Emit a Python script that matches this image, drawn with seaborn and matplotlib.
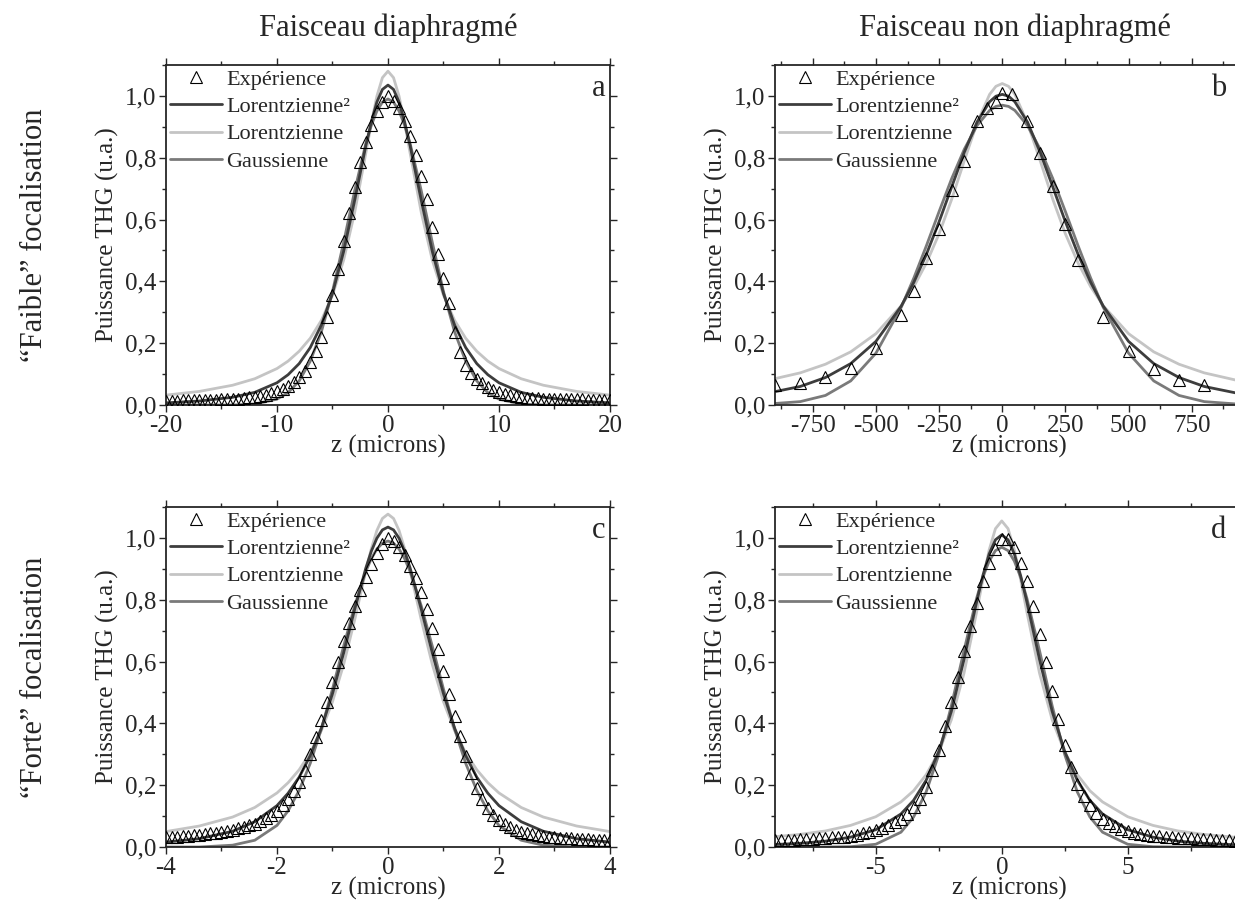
import numpy as np
import matplotlib
matplotlib.use("Agg")
import matplotlib.pyplot as plt
from matplotlib.ticker import MultipleLocator, FuncFormatter
import seaborn as sns

# --- données --------------------------------------------------------------
col_titles = ["Faisceau diaphragmé", "Faisceau non diaphragmé"]
row_titles = ["\u201cFaible\u201d focalisation", "\u201cForte\u201d focalisation"]
panel_letters = ["a", "b", "c", "d"]
series_names = ["Expérience", "Lorentzienne²", "Lorentzienne", "Gaussienne"]

# panneau a : faisceau diaphragmé, faible focalisation (pas de 0.5 micron)
a_exp_x = np.arange(-20, 20.01, 0.5)
a_exp_y = [0.014, 0.014, 0.014, 0.015, 0.015, 0.015, 0.016, 0.016, 0.017, 0.017,
           0.018, 0.019, 0.020, 0.021, 0.023, 0.025, 0.027, 0.030, 0.034, 0.039,
           0.045, 0.053, 0.063, 0.075, 0.090, 0.110, 0.140, 0.175, 0.220, 0.285,
           0.355, 0.440, 0.530, 0.620, 0.705, 0.785, 0.850, 0.905, 0.950, 0.980,
           1.000,
           0.985, 0.960, 0.920, 0.870, 0.810, 0.740, 0.665, 0.575, 0.490, 0.410,
           0.330, 0.235, 0.170, 0.130, 0.105, 0.085, 0.070, 0.058, 0.048, 0.041,
           0.035, 0.031, 0.028, 0.026, 0.024, 0.023, 0.022, 0.021, 0.020, 0.020,
           0.019, 0.019, 0.018, 0.018, 0.018, 0.017, 0.017, 0.017, 0.016, 0.016]
a_fit_x = [0, 0.5, 1, 1.5, 2, 3, 4, 5, 6, 7, 8, 9, 10, 12, 14, 17, 20]
a_lor2 = [1.035, 1.021, 0.980, 0.916, 0.838, 0.662, 0.496, 0.361, 0.259, 0.186,
          0.134, 0.098, 0.072, 0.041, 0.025, 0.013, 0.007]
a_lor = [1.080, 1.059, 0.999, 0.912, 0.814, 0.623, 0.468, 0.355, 0.274, 0.216,
         0.174, 0.142, 0.118, 0.085, 0.064, 0.044, 0.032]
a_gauss = [0.990, 0.980, 0.951, 0.905, 0.845, 0.693, 0.525, 0.367, 0.237, 0.142,
           0.078, 0.040, 0.019, 0.003, 0.000, 0.000, 0.000]

# panneau b : faisceau non diaphragmé, faible focalisation
b_exp_x = [-900, -800, -700, -600, -500, -400, -350, -300, -250, -200, -150, -100,
           -60, -25, 0, 40, 100, 150, 200, 250, 300, 400, 500, 600, 700, 800]
b_exp_y = [0.065, 0.070, 0.090, 0.120, 0.185, 0.290, 0.370, 0.475, 0.570, 0.695,
           0.790, 0.920, 0.960, 0.980, 1.010, 1.005, 0.920, 0.815, 0.710, 0.585,
           0.470, 0.285, 0.175, 0.115, 0.082, 0.065]
b_fit_x = [0, 25, 50, 100, 150, 200, 250, 300, 350, 400, 500, 600, 700, 800, 950]
b_lor2 = [1.005, 0.999, 0.981, 0.915, 0.818, 0.706, 0.593, 0.488, 0.397, 0.320,
          0.206, 0.134, 0.089, 0.060, 0.035]
b_lor = [1.040, 1.031, 1.005, 0.912, 0.791, 0.666, 0.554, 0.460, 0.383, 0.321,
         0.231, 0.172, 0.132, 0.104, 0.076]
b_gauss = [0.970, 0.966, 0.953, 0.904, 0.828, 0.733, 0.626, 0.516, 0.411, 0.316,
           0.168, 0.078, 0.031, 0.011, 0.002]

# panneau c : faisceau diaphragmé, forte focalisation (pas de 0.1 micron)
c_exp_x = np.arange(-4, 4.001, 0.1)
c_exp_y = [0.032, 0.033, 0.034, 0.035, 0.036, 0.038, 0.040, 0.042, 0.044, 0.046,
           0.049, 0.052, 0.056, 0.060, 0.065, 0.070, 0.076, 0.083, 0.093, 0.104,
           0.118, 0.135, 0.155, 0.180, 0.210, 0.250, 0.300, 0.355, 0.410, 0.470,
           0.535, 0.600, 0.665, 0.725, 0.780, 0.830, 0.875, 0.915, 0.950, 0.980,
           1.000,
           0.990, 0.970, 0.945, 0.910, 0.870, 0.825, 0.770, 0.710, 0.640, 0.570,
           0.495, 0.425, 0.360, 0.295, 0.240, 0.190, 0.155, 0.127, 0.105, 0.088,
           0.074, 0.064, 0.056, 0.050, 0.045, 0.041, 0.038, 0.035, 0.033, 0.031,
           0.030, 0.029, 0.028, 0.027, 0.026, 0.025, 0.024, 0.023, 0.023, 0.022]
c_fit_x = [0, 0.1, 0.2, 0.3, 0.4, 0.6, 0.8, 1.0, 1.2, 1.4, 1.6, 1.8, 2.0, 2.4, 2.8, 3.4, 4.0]
c_lor2 = [1.035, 1.026, 0.999, 0.957, 0.902, 0.769, 0.627, 0.496, 0.385, 0.296,
          0.226, 0.174, 0.134, 0.082, 0.051, 0.027, 0.016]
c_lor = [1.077, 1.063, 1.024, 0.965, 0.893, 0.735, 0.590, 0.470, 0.377, 0.305,
         0.250, 0.208, 0.175, 0.128, 0.097, 0.068, 0.050]
c_gauss = [0.990, 0.983, 0.964, 0.933, 0.891, 0.780, 0.649, 0.511, 0.382, 0.271,
           0.183, 0.117, 0.070, 0.022, 0.006, 0.000, 0.000]

# panneau d : faisceau non diaphragmé, forte focalisation (pas de 0.25 micron)
d_exp_x = np.arange(-9, 9.501, 0.25)
d_exp_y = [0.022, 0.023, 0.024, 0.024, 0.025, 0.026, 0.027, 0.028, 0.030, 0.031,
           0.032, 0.034, 0.037, 0.040, 0.044, 0.049, 0.055, 0.062, 0.070, 0.080,
           0.092, 0.107, 0.128, 0.155, 0.195, 0.250, 0.315, 0.390, 0.470, 0.550,
           0.635, 0.715, 0.790, 0.860, 0.920, 0.965,
           0.995,
           0.995, 0.970, 0.920, 0.860, 0.780, 0.690, 0.600, 0.505, 0.415, 0.330,
           0.260, 0.205, 0.165, 0.135, 0.110, 0.092, 0.078, 0.067, 0.059, 0.052,
           0.047, 0.043, 0.040, 0.037, 0.035, 0.033, 0.031, 0.030, 0.029, 0.028,
           0.027, 0.026, 0.025, 0.024, 0.023, 0.022, 0.021, 0.020]
d_fit_x = [0, 0.25, 0.5, 0.75, 1, 1.5, 2, 2.5, 3, 3.5, 4, 5, 6, 7, 8, 9.6]
d_lor2 = [1.010, 0.994, 0.948, 0.878, 0.792, 0.606, 0.439, 0.309, 0.216, 0.151,
          0.107, 0.056, 0.032, 0.019, 0.012, 0.006]
d_lor = [1.055, 1.030, 0.961, 0.865, 0.759, 0.562, 0.412, 0.307, 0.234, 0.182,
         0.146, 0.098, 0.070, 0.052, 0.041, 0.029]
d_gauss = [0.970, 0.959, 0.925, 0.873, 0.804, 0.635, 0.457, 0.299, 0.178, 0.097,
           0.048, 0.009, 0.001, 0.000, 0.000, 0.000]

panels = [
    (a_exp_x, a_exp_y, a_fit_x, a_lor2, a_lor, a_gauss),
    (b_exp_x, b_exp_y, b_fit_x, b_lor2, b_lor, b_gauss),
    (c_exp_x, c_exp_y, c_fit_x, c_lor2, c_lor, c_gauss),
    (d_exp_x, d_exp_y, d_fit_x, d_lor2, d_lor, d_gauss),
]
x_limits = [(-20, 20), (-900, 953), (-4, 4), (-9, 9.57)]
x_major = [10, 250, 2, 5]
x_minor = [5, 125, 1, 2.5]
letter_x = [0.99, 0.965, 0.99, 0.965]

# --- style ------------------------------------------------------------------
sns.set_style("ticks")
plt.rcParams['font.family'] = ['Liberation Serif', 'DejaVu Serif']
plt.rcParams['axes.unicode_minus'] = False

col_lor2 = "#3d3d3d"
col_lor = "#c4c4c4"
col_gauss = "#7a7a7a"

fig = plt.figure(figsize=(12.35, 9.18), dpi=100)
positions = [
    [0.1344, 0.5588, 0.3595, 0.3704],
    [0.6275, 0.5588, 0.3789, 0.3704],
    [0.1344, 0.0773, 0.3595, 0.3704],
    [0.6275, 0.0773, 0.3789, 0.3704],
]


def sym(half_x, half_y):
    # courbe symétrique : on recopie la moitié droite à gauche
    hx = np.asarray(half_x, dtype=float)
    hy = np.asarray(half_y, dtype=float)
    return np.concatenate([-hx[:0:-1], hx]), np.concatenate([hy[:0:-1], hy])


for i, (exp_x, exp_y, fit_x, lor2, lor, gauss) in enumerate(panels):
    ax = fig.add_axes(positions[i])

    fx, fy = sym(fit_x, lor)
    sns.lineplot(x=fx, y=fy, ax=ax, color=col_lor, lw=2.0, sort=False,
                 estimator=None, label=series_names[2], legend=False)
    fx, fy = sym(fit_x, gauss)
    sns.lineplot(x=fx, y=fy, ax=ax, color=col_gauss, lw=2.0, sort=False,
                 estimator=None, label=series_names[3], legend=False)
    fx, fy = sym(fit_x, lor2)
    sns.lineplot(x=fx, y=fy, ax=ax, color=col_lor2, lw=2.0, sort=False,
                 estimator=None, label=series_names[1], legend=False)
    sns.lineplot(x=np.asarray(exp_x, dtype=float), y=exp_y, ax=ax, color="black",
                 linestyle="", marker="^", markersize=8, markerfacecolor="none",
                 markeredgecolor="black", markeredgewidth=0.8, sort=False,
                 estimator=None, label=series_names[0], legend=False, zorder=5)

    ax.set_xlim(*x_limits[i])
    ax.set_ylim(0, 1.1)
    ax.xaxis.set_major_locator(MultipleLocator(x_major[i]))
    ax.xaxis.set_minor_locator(MultipleLocator(x_minor[i]))
    ax.yaxis.set_major_locator(MultipleLocator(0.2))
    ax.yaxis.set_minor_locator(MultipleLocator(0.1))
    ax.yaxis.set_major_formatter(FuncFormatter(lambda v, p: f"{v:.1f}".replace(".", ",")))
    ax.xaxis.set_major_formatter(FuncFormatter(lambda v, p: f"{v:g}"))
    ax.tick_params(which="both", direction="out", top=True, right=True,
                   labelsize=18, width=1.0, pad=2)
    ax.tick_params(which="major", length=5)
    ax.tick_params(which="minor", length=3)
    for s in ax.spines.values():
        s.set_linewidth(1.3)
        s.set_visible(True)

    ax.set_xlabel("z (microns)", fontsize=18, labelpad=-1)
    ax.set_ylabel("Puissance THG (u.a.)", fontsize=18, labelpad=4)

    handles, labels = ax.get_legend_handles_labels()
    order = [labels.index(n) for n in series_names]
    ax.legend([handles[k] for k in order], [labels[k] for k in order],
              loc="upper left", frameon=False, fontsize=16, handlelength=2.3,
              handletextpad=0.22, borderpad=0.1, borderaxespad=0.1,
              labelspacing=0.3, numpoints=1)

    ax.text(letter_x[i], 0.932, panel_letters[i], transform=ax.transAxes,
            ha="right", va="center", fontsize=22)

fig.text(388 / 1235, 1 - 28 / 918, col_titles[0], ha="center", va="center", fontsize=22)
fig.text(1015 / 1235, 1 - 28 / 918, col_titles[1], ha="center", va="center", fontsize=22)
fig.text(35 / 1235, 1 - 235 / 918, row_titles[0], ha="center", va="center",
         rotation=90, fontsize=22)
fig.text(35 / 1235, 1 - 677 / 918, row_titles[1], ha="center", va="center",
         rotation=90, fontsize=22)

fig.savefig("out.png", dpi=100, facecolor="white")
